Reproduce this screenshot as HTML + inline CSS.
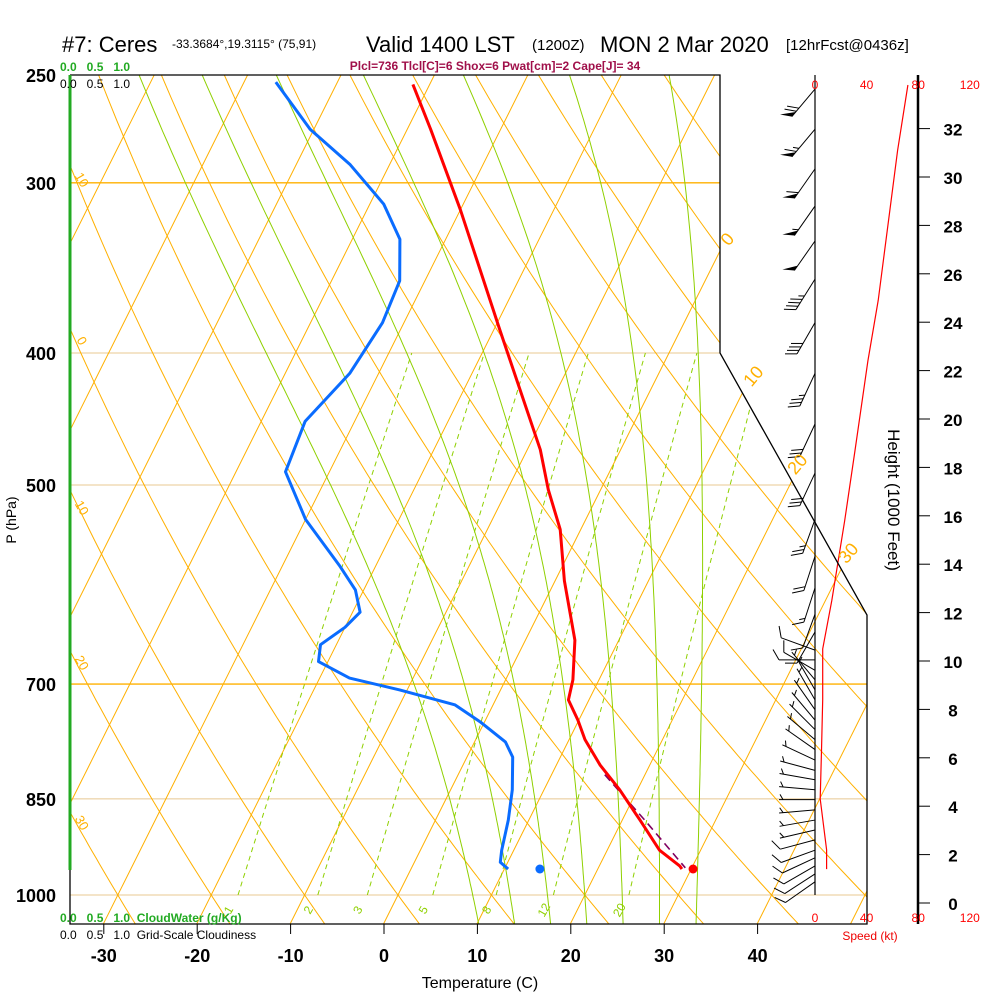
<!DOCTYPE html>
<html><head><meta charset="utf-8"><title>Skew-T Ceres</title>
<style>
html,body{margin:0;padding:0;background:#fff;}
svg{display:block;font-family:"Liberation Sans",sans-serif;}
.lbl{font-weight:bold;fill:#000;}
</style></head>
<body>
<svg id="chart" width="1000" height="1000" viewBox="0 0 1000 1000" xmlns="http://www.w3.org/2000/svg">
<defs>
<clipPath id="plotclip"><polygon points="70,75 720,75 720,353 867,615 867,924 70,924"/></clipPath>
<clipPath id="mixclip"><polygon points="70,75 720,75 720,353 867,615 867,895 70,895"/></clipPath>
</defs>
<rect x="0" y="0" width="1000" height="1000" fill="#fff"/>
<g id="grid" clip-path="url(#plotclip)"></g>
<g id="mix" clip-path="url(#mixclip)"></g>
<g id="series"></g>
<g id="frame">
  <polyline points="70,75 720,75 720,353 867,615 867,924 70,924 70,75" fill="none" stroke="#000" stroke-width="1.3"/>
  <line x1="70" y1="75" x2="70" y2="870" stroke="#22aa22" stroke-width="3"/>
  <line x1="815" y1="75" x2="815" y2="895" stroke="#000" stroke-width="1.2"/>
  <line x1="918" y1="75" x2="918" y2="924" stroke="#000" stroke-width="2.5"/>
</g>
<g id="winds"></g>
<g id="labels">
  <text x="62" y="52" font-size="22" class="lbl" style="font-weight:normal">#7: Ceres</text>
  <text x="172" y="48" font-size="12" fill="#000">-33.3684°,19.3115° (75,91)</text>
  <text x="366" y="52" font-size="22" fill="#000">Valid 1400 LST</text>
  <text x="532" y="50" font-size="15" fill="#000">(1200Z)</text>
  <text x="600" y="52" font-size="22" fill="#000">MON 2 Mar 2020</text>
  <text x="786" y="50" font-size="15" fill="#000">[12hrFcst@0436z]</text>
  <text x="495" y="70" font-size="12" font-weight="bold" fill="#a0104a" text-anchor="middle">Plcl=736 Tlcl[C]=6 Shox=6 Pwat[cm]=2 Cape[J]= 34</text>
  <text x="60" y="71" font-size="12" font-weight="bold" fill="#22aa22">0.0 &#160; 0.5 &#160; 1.0</text>
  <text x="60" y="88" font-size="12" fill="#000">0.0 &#160; 0.5 &#160; 1.0</text>
  <text x="60" y="922" font-size="12" font-weight="bold" fill="#22aa22">0.0 &#160; 0.5 &#160; 1.0 &#160;CloudWater (g/Kg)</text>
  <text x="60" y="939" font-size="12" fill="#000">0.0 &#160; 0.5 &#160; 1.0 &#160;Grid-Scale Cloudiness</text>
  <text x="16" y="520" font-size="14" fill="#000" text-anchor="middle" transform="rotate(-90 16 520)">P (hPa)</text>
  <text x="480" y="988" font-size="16" fill="#000" text-anchor="middle">Temperature (C)</text>
  <text x="888" y="500" font-size="17" fill="#000" text-anchor="middle" transform="rotate(90 888 500)">Height (1000 Feet)</text>
  <text x="870" y="940" font-size="12" fill="#e00" text-anchor="middle">Speed (kt)</text>
</g>
<g id="axes"></g>
</svg>
<script>
// ---- data ----
const presTicks = [250, 300, 400, 500, 700, 850, 1000];
const tempTicks = [-30, -20, -10, 0, 10, 20, 30, 40];
const heightTicks = [0, 2, 4, 6, 8, 10, 12, 14, 16, 18, 20, 22, 24, 26, 28, 30, 32];
const speedTicks = [0, 40, 80, 120];
const tempP = [254, 274, 314, 385, 471, 504, 539, 588, 650, 695, 719, 744, 769, 803, 837, 881, 927, 952, 957];
const tempT = [-41.8, -37.5, -30.0, -19.3, -8.6, -5.6, -2.2, 1.0, 5.3, 7.2, 7.8, 9.9, 11.7, 14.7, 18.1, 21.9, 25.6, 28.6, 29.0];
const dewP = [253, 274, 291, 311, 330, 354, 380, 414, 449, 489, 530, 573, 597, 620, 636, 655, 674, 693, 707, 725, 746, 772, 792, 837, 881, 927, 946, 957];
const dewT = [-56.6, -50.4, -44.2, -38.5, -34.9, -32.7, -32.3, -33.1, -35.3, -34.7, -30.0, -23.9, -20.9, -19.2, -20.0, -21.7, -21.0, -16.8, -10.8, -4.1, -0.5, 3.3, 4.9, 6.6, 7.8, 8.7, 9.2, 10.4];
const parcelP = [816, 881, 955];
const parcelT = [15.7, 22.4, 29.3];
const surfaceP = 957;
const surfaceT = 30.2;
const surfaceTd = 13.8;
const windP = [256, 274, 293, 312, 331, 353, 380, 414, 451, 490, 530, 564, 595, 622, 641, 661, 672, 684, 695, 707, 719, 731, 744, 756, 769, 782, 796, 810, 823, 837, 851, 866, 881, 896, 911, 927, 939, 952, 965, 978];
const windDir = [220, 220, 215, 215, 215, 212, 210, 205, 205, 205, 200, 198, 198, 200, 210, 290, 270, 300, 320, 330, 330, 325, 320, 315, 310, 305, 295, 285, 280, 275, 270, 265, 260, 257, 255, 250, 245, 240, 237, 235];
const windSpd = [70, 65, 60, 55, 50, 45, 40, 35, 30, 28, 23, 18, 14, 10, 8, 10, 12, 8, 5, 5, 5, 5, 6, 6, 7, 7, 6, 6, 6, 5, 5, 6, 7, 7, 8, 8, 9, 9, 9, 9];
const profHeight = [33.8, 31.1, 24.9, 22.4, 18.7, 15.8, 12.5, 10.5, 8.4, 6.3, 4.3, 2.2, 1.4];
const profSpeed = [72, 64, 49, 41, 31, 23, 13, 6, 6, 5, 4, 9, 9];
const mixRatios = [1, 2, 3, 5, 8, 12, 20];
const moistStarts = [8, 12, 16, 20, 24, 28, 32];

// ---- scales ----
const NS = "http://www.w3.org/2000/svg";
function yP(p){ return 895 - 591.5*Math.log(1000/p); }
function xT(t,p){ return 398 + 9.34*t + 0.5*(895 - yP(p)); }
function xSpd(s){ return 815 + s*1.29; }
function yH(h){ return 903 - h*24.2; }
function mk(tag, attrs, parent){
  const e = document.createElementNS(NS, tag);
  for (const k in attrs) e.setAttribute(k, attrs[k]);
  parent.appendChild(e); return e;
}
function pathFrom(pts){ return pts.map((q,i)=>(i?'L':'M')+q[0].toFixed(1)+','+q[1].toFixed(1)).join(''); }

const grid = document.getElementById('grid');
const mix = document.getElementById('mix');
const series = document.getElementById('series');
const axes = document.getElementById('axes');
const winds = document.getElementById('winds');

// isobars
presTicks.forEach(p=>{
  const strong = (p===300||p===700);
  const l = mk('line',{x1:70,y1:yP(p),x2:900,y2:yP(p),stroke:strong?'#ffb000':'#e8c890','stroke-width':strong?1.4:1},grid);
  
  
});
// isotherms
for(let t=-130;t<=50;t+=10){
  const l = mk('line',{x1:xT(t,1060),y1:yP(1060),x2:xT(t,240),y2:yP(240),stroke:'#ffb000','stroke-width':1},grid);
  
  
}
// dry adiabats
for(let th=-60;th<=160;th+=10){
  const pts=[];
  for(let p=1060;p>=240;p-=10){ const T=(th+273.15)*Math.pow(p/1000,0.286)-273.15; pts.push([xT(T,p),yP(p)]); }
  const e = mk('path',{d:pathFrom(pts),fill:'none',stroke:'#ffb000','stroke-width':1},grid);
  
  
}
// moist adiabats
function esat(T){ return 6.112*Math.exp(17.67*T/(T+243.5)); }
function moistPts(t0){
  const Rd=287.04, cp=1005.7, Lv=2.501e6, eps=0.622;
  const grad=(T,p)=>{ const Tk=T+273.15; const rs=eps*esat(T)/(p-esat(T));
    return (Rd*Tk+Lv*rs)/(cp+Lv*Lv*rs*eps/(Rd*Tk*Tk)); };
  const up=[]; let T=t0, p=1000;
  while(p>=240){ up.push([xT(T,p),yP(p)]); const dp=-5; T+=grad(T,p)*Math.log((p+dp)/p); p+=dp; }
  const dn=[]; T=t0; p=1000;
  while(p<=1060){ dn.push([xT(T,p),yP(p)]); const dp=5; T+=grad(T,p)*Math.log((p+dp)/p); p+=dp; }
  return dn.reverse().concat(up);
}
moistStarts.forEach(t0=>{
  const e = mk('path',{d:pathFrom(moistPts(t0)),fill:'none',stroke:'#8fd000','stroke-width':1},grid);
  
  
});
// mixing ratio lines
mixRatios.forEach(w=>{
  const pts=[];
  for(let p=1000;p>=400;p-=10){ const e=w*p/(622+w); const L=Math.log(e/6.112); const Td=243.5*L/(17.67-L); pts.push([xT(Td,p),yP(p)]); }
  const e = mk('path',{d:pathFrom(pts),fill:'none',stroke:'#8fd000','stroke-width':1,'stroke-dasharray':'5,4'},mix);
  
  
  const x0 = pts[0][0]-6;
  const t = mk('text',{x:x0,y:912,'font-size':12,fill:'#8fd000','text-anchor':'middle',transform:'rotate(-60 '+x0+' 912)'},axes);
  t.textContent = w;
  
  
});
// dry adiabat labels
[[78,182,'10'],[78,343,'0'],[78,510,'10'],[78,665,'20'],[78,825,'30'],[732,243,'0'],[758,380,'10'],[802,468,'20'],[853,557,'30']].forEach(a=>{
  const t = mk('text',{x:a[0],y:a[1],'font-size':a[0]>700?18:13,fill:'#ffb000','text-anchor':'middle',transform:'rotate('+(a[0]>700?-50:60)+' '+a[0]+' '+a[1]+')'},axes);
  t.textContent=a[2];
  
  
});

// parcel
const parcel = mk('path',{d:pathFrom(parcelP.map((p,i)=>[xT(parcelT[i],p),yP(p)])),fill:'none',stroke:'#800060','stroke-width':1.6,'stroke-dasharray':'8,5'},series);


// temperature
const tline = mk('path',{d:pathFrom(tempP.map((p,i)=>[xT(tempT[i],p),yP(p)])),fill:'none',stroke:'#ff0000','stroke-width':3,'stroke-linejoin':'round'},series);


// dewpoint
const dline = mk('path',{d:pathFrom(dewP.map((p,i)=>[xT(dewT[i],p),yP(p)])),fill:'none',stroke:'#0a6cff','stroke-width':3,'stroke-linejoin':'round'},series);


const sdot = mk('circle',{cx:xT(surfaceT,surfaceP),cy:yP(surfaceP),r:4.5,fill:'#ff0000'},series);


const ddot = mk('circle',{cx:xT(surfaceTd,surfaceP),cy:yP(surfaceP),r:4.5,fill:'#0a6cff'},series);


// speed profile
const sline = mk('path',{d:pathFrom(profHeight.map((h,i)=>[xSpd(profSpeed[i]),yH(h)])),fill:'none',stroke:'#ff0000','stroke-width':1.2},series);



// wind barbs
function barb(bx,by,dir,spd){
  const g = mk('g',{},winds);
  
  
  const L=36, r=dir*Math.PI/180;
  const ux=Math.sin(r), uy=-Math.cos(r);
  const tx=bx+ux*L, ty=by+uy*L;
  mk('line',{x1:bx,y1:by,x2:tx,y2:ty,stroke:'#000','stroke-width':1},g);
  const a=Math.atan2(uy,ux)+Math.PI/3;
  const bxv=Math.cos(a), byv=Math.sin(a);
  let s=Math.round(spd/5)*5, pos=0;
  while(s>=50){
    const x1=tx-ux*pos, y1=ty-uy*pos, x2=tx-ux*(pos+6), y2=ty-uy*(pos+6);
    mk('polygon',{points:x1+','+y1+' '+(x1+bxv*12)+','+(y1+byv*12)+' '+x2+','+y2,fill:'#000'},g);
    pos+=7; s-=50;
  }
  while(s>=10){
    const x1=tx-ux*pos, y1=ty-uy*pos;
    mk('line',{x1:x1,y1:y1,x2:x1+bxv*12,y2:y1+byv*12,stroke:'#000','stroke-width':1},g);
    pos+=4; s-=10;
  }
  if(s>=5){
    if(pos===0) pos=4;
    const x1=tx-ux*pos, y1=ty-uy*pos;
    mk('line',{x1:x1,y1:y1,x2:x1+bxv*6,y2:y1+byv*6,stroke:'#000','stroke-width':1},g);
  }
}
windP.forEach((p,i)=>barb(815,yP(p),windDir[i],windSpd[i]));

// axis labels
presTicks.forEach(p=>{
  const t = mk('text',{x:56,y:yP(p)+7,'font-size':18,'font-weight':'bold','text-anchor':'end',fill:'#000'},axes);
  t.textContent=p;
  
  
});
tempTicks.forEach(tv=>{
  const x = 384 + 9.34*tv;
  const tk = mk('line',{x1:x,y1:924,x2:x,y2:934,stroke:'#000','stroke-width':1},axes);
  
  
  const t = mk('text',{x:x,y:962,'font-size':18,'font-weight':'bold','text-anchor':'middle',fill:'#000'},axes);
  t.textContent=tv;
  
  
});
heightTicks.forEach(h=>{
  const y=yH(h);
  const tk = mk('line',{x1:918,y1:y,x2:930,y2:y,stroke:'#000','stroke-width':1},axes);
  
  
  const t = mk('text',{x:953,y:y+7,'font-size':17,'font-weight':'bold','text-anchor':'middle',fill:'#000'},axes);
  t.textContent=h;
  
  
});
speedTicks.forEach(s=>{
  [89,922].forEach(y=>{
    const t = mk('text',{x:xSpd(s),y:y,'font-size':12,'text-anchor':'middle',fill:'#ff0000'},axes);
    t.textContent=s;
    
    
  });
});
</script>
</body></html>
